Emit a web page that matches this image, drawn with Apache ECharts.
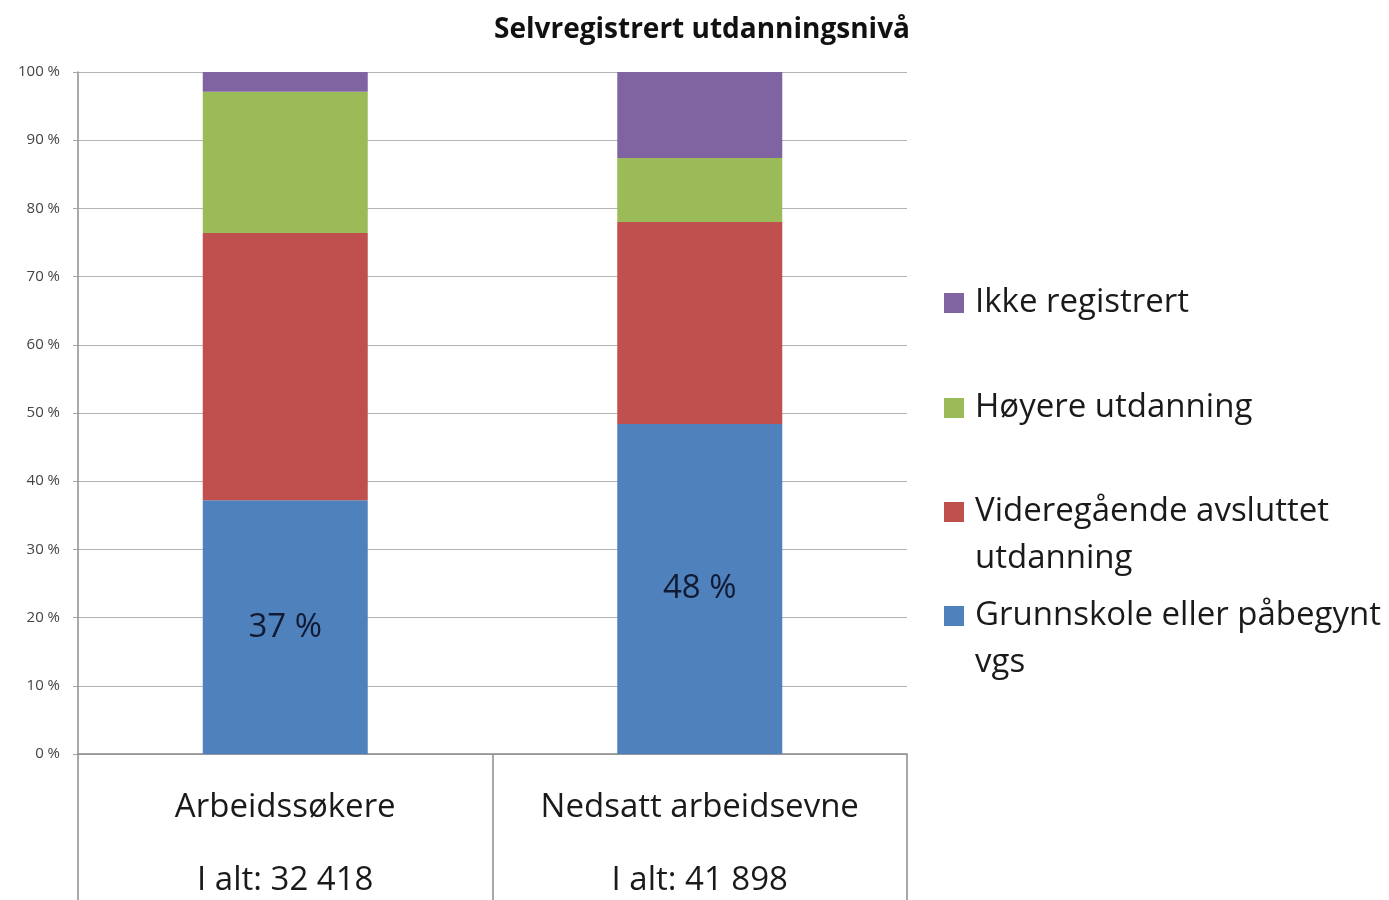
<!DOCTYPE html>
<html>
<head>
<meta charset="utf-8">
<script src="https://cdn.jsdelivr.net/npm/echarts@6/dist/echarts.min.js"></script>
<style>
  html, body { margin: 0; padding: 0; background: #fff; }
  #chart { width: 1389px; height: 900px; }
</style>
</head>
<body>
<div id="chart"></div>
<script>
// kategorier og verdier (andel i prosent)
const categories = ['Arbeidssøkere', 'Nedsatt arbeidsevne']
const totals = ['I alt: 32 418', 'I alt: 41 898']
const grunnskole = [37.2, 48.4]
const videregaende = [39.2, 29.6]
const hoyere = [20.7, 9.4]
const ikkeRegistrert = [2.9, 12.6]
const yTicks = [0, 10, 20, 30, 40, 50, 60, 70, 80, 90, 100]

const colors = {
  blue: '#4f81bd',
  red: '#c0504d',
  green: '#9bbb59',
  purple: '#8064a2'
}

const font = '"Open Sans", sans-serif'
const lh = 47

// legendenavn med linjeskift (tom første linje holder ikonet ved første tekstlinje)
const legendText = {
  'Ikke registrert': 'Ikke registrert',
  'Høyere utdanning': 'Høyere utdanning',
  'Videregående avsluttet utdanning': '\nVideregående avsluttet\nutdanning',
  'Grunnskole eller påbegynt vgs': '\nGrunnskole eller påbegynt\nvgs'
}

const makeLegend = (name, y, lines) => ({
  data: [name],
  orient: 'vertical',
  left: 944,
  top: y - (lines > 1 ? lh * 1.5 : lh / 2),
  padding: 0,
  itemWidth: 20,
  itemHeight: 20,
  icon: 'rect',
  selectedMode: false,
  formatter: (n) => legendText[n],
  textStyle: {
    fontFamily: font,
    fontSize: 33,
    color: '#1a1a1a',
    lineHeight: lh,
    padding: [0, 0, 0, 6]
  }
})

const barSeries = (name, data, color, withLabel) => ({
  name: name,
  type: 'bar',
  stack: 'total',
  barWidth: 165,
  data: data,
  itemStyle: { color: color },
  label: {
    show: withLabel,
    position: 'inside',
    formatter: (p) => Math.round(p.value) + ' %',
    fontFamily: font,
    fontSize: 33,
    color: '#111a33'
  }
})

const chart = echarts.init(document.getElementById('chart'))

chart.setOption({
  animation: false,
  title: {
    text: 'Selvregistrert utdanningsnivå',
    left: 494,
    top: 16,
    padding: 0,
    textStyle: {
      fontFamily: font,
      fontSize: 28,
      fontWeight: 'bold',
      color: '#111'
    }
  },
  legend: [
    makeLegend('Ikke registrert', 303, 1),
    makeLegend('Høyere utdanning', 408, 1),
    makeLegend('Videregående avsluttet utdanning', 512, 2),
    makeLegend('Grunnskole eller påbegynt vgs', 616, 2)
  ],
  grid: {
    left: 78,
    right: 482,
    top: 72,
    bottom: 146,
    containLabel: false,
    outerBoundsMode: 'none'
  },
  xAxis: {
    type: 'category',
    data: categories,
    axisLine: { lineStyle: { color: '#8c8c8c', width: 1.5 } },
    axisTick: {
      show: true,
      length: 146,
      lineStyle: { color: '#8c8c8c', width: 1.5 }
    },
    axisLabel: {
      margin: 17,
      fontFamily: font,
      fontSize: 33,
      color: '#1a1a1a',
      lineHeight: 73,
      verticalAlign: 'top',
      formatter: (v, i) => v + '\n' + totals[i]
    }
  },
  yAxis: {
    type: 'value',
    min: yTicks[0],
    max: yTicks[yTicks.length - 1],
    interval: 10,
    axisLine: { show: true, lineStyle: { color: '#8c8c8c', width: 1.5 } },
    axisTick: { show: true, length: 5, lineStyle: { color: '#a6a6a6' } },
    splitLine: { lineStyle: { color: '#b3b3b3', width: 1.2 } },
    axisLabel: {
      margin: 18,
      fontFamily: font,
      fontSize: 15,
      color: '#444',
      formatter: '{value} %'
    }
  },
  series: [
    barSeries('Grunnskole eller påbegynt vgs', grunnskole, colors.blue, true),
    barSeries('Videregående avsluttet utdanning', videregaende, colors.red, false),
    barSeries('Høyere utdanning', hoyere, colors.green, false),
    barSeries('Ikke registrert', ikkeRegistrert, colors.purple, false)
  ]
})
</script>
</body>
</html>
